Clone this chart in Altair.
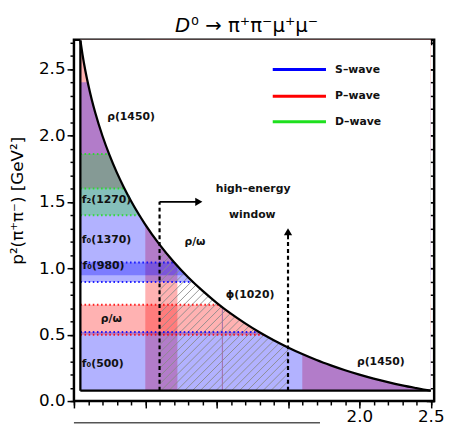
import altair as alt
import pandas as pd

# ---------------- values ----------------
# Dalitz boundary: p^2(mu+mu-) (x) vs upper edge of p^2(pi+pi-) (y)
bnd_x = [0.045, 0.06, 0.08, 0.1, 0.125, 0.15, 0.2, 0.25, 0.3, 0.35, 0.4, 0.45, 0.5,
         0.6, 0.7, 0.8, 0.9, 1.0, 1.1, 1.2, 1.3, 1.4, 1.5, 1.6, 1.7, 1.8, 1.9, 2.0,
         2.1, 2.2, 2.3, 2.4, 2.45, 2.5]
bnd_y = [2.716, 2.609, 2.487, 2.383, 2.269, 2.169, 1.996, 1.850, 1.722, 1.609, 1.507,
         1.414, 1.329, 1.178, 1.047, 0.932, 0.831, 0.740, 0.658, 0.585, 0.518, 0.458,
         0.404, 0.354, 0.309, 0.269, 0.232, 0.199, 0.169, 0.142, 0.118, 0.097, 0.087, 0.078]
x_thr = 0.045
y_thr = 0.078
x_end = 2.5
X_DOM = [0.0, 2.524]
Y_DOM = [0.0, 2.72]

waves = ["S–wave", "P–wave", "D–wave"]
wave_colors = ["#0000ff", "#ff0000", "#1ee01e"]
wave_opac = [0.3, 0.3, 0.4]

# resonance bands (horizontal: pi pi ; vertical: mu mu), drawn P, then S, then D
band_wave = ["P–wave", "P–wave", "P–wave", "P–wave",
             "S–wave", "S–wave", "S–wave", "D–wave"]
band_x1 = [x_thr, x_thr, 0.5, 1.6, x_thr, x_thr, x_thr, x_thr]
band_x2 = [x_end, x_end, 0.725, x_end, x_end, x_end, x_end, x_end]
band_y1 = [0.50, 1.60, y_thr, y_thr, y_thr, 0.896, 0.948, 1.40]
band_y2 = [0.726, Y_DOM[1], Y_DOM[1], Y_DOM[1], 0.52, 1.044, 2.40, 1.86]

# dotted band edges
edge_wave = ["S–wave", "S–wave", "S–wave", "P–wave", "P–wave", "D–wave", "D–wave", "D–wave"]
edge_y = [0.52, 0.896, 1.044, 0.50, 0.726, 1.40, 1.60, 1.86]

phi_x = 1.04          # narrow phi(1020) in mu mu
win_lo = 0.6          # dashed window edges
win_hi = 1.5

# labels
lab_text = ["ρ(1450)", "f₂(1270)", "f₀(1370)", "f₀(980)", "ρ/ω", "f₀(500)", "ρ/ω",
            "ϕ(1020)", "ρ(1450)", "high–energy", "window"]
lab_x = [0.40, 0.055, 0.055, 0.06, 0.262, 0.055, 0.848, 1.234, 2.15, 1.255, 1.25]
lab_y = [2.14, 1.51, 1.21, 1.015, 0.615, 0.28, 1.20, 0.80, 0.296, 1.60, 1.40]
lab_align = ["center", "left", "left", "left", "center", "left", "center", "center",
             "center", "center", "center"]

leg_y = [2.496, 2.296, 2.104]
leg_x1, leg_x2, leg_tx = 1.393, 1.766, 1.83

title_a = "D"
title_b = "⁰ → π⁺π⁻μ⁺μ⁻"

# ---------------- tables ----------------
xs = alt.Scale(domain=X_DOM, nice=False, zero=False)
ys = alt.Scale(domain=Y_DOM, nice=False, zero=False)
wscale = alt.Scale(domain=waves, range=wave_colors)
oscale = alt.Scale(domain=waves, range=wave_opac)

bnd = pd.DataFrame({"x": bnd_x, "y": bnd_y})
bnd["top"] = Y_DOM[1]
bands = pd.DataFrame({"wave": band_wave, "x1": band_x1, "x2": band_x2,
                      "y1": band_y1, "y2": band_y2})
bands["order"] = range(len(bands))
edges = pd.DataFrame({"wave": edge_wave, "y": edge_y})
edges["x1"] = x_thr
edges["x2"] = x_end

s = (366 / (X_DOM[1] - X_DOM[0])) / (367 / (Y_DOM[1] - Y_DOM[0]))
h_top = 1.25
step = 0.055
segs = []
c = win_lo - (h_top - y_thr) / s
while c < win_hi:
    xa = max(win_lo, c)
    xb = min(win_hi, c + (h_top - y_thr) / s)
    if xb > xa:
        segs.append({"x1": xa, "y1": y_thr + s * (xa - c),
                     "x2": xb, "y2": y_thr + s * (xb - c)})
    c += step
hatch = pd.DataFrame(segs)

frame_edges = pd.DataFrame({"x1": [x_thr, x_thr], "x2": [x_thr, x_end],
                            "y1": [y_thr, y_thr], "y2": [bnd_y[0], y_thr]})
phi_df = pd.DataFrame({"x1": [phi_x], "x2": [phi_x], "y1": [y_thr], "y2": [0.8]})
dashed = pd.DataFrame({"x1": [win_lo, win_hi], "x2": [win_lo, win_hi],
                       "y1": [y_thr, y_thr], "y2": [1.5, 1.22]})
solid = pd.DataFrame({"x1": [win_lo, win_hi], "x2": [0.86, win_hi],
                      "y1": [1.5, 1.22], "y2": [1.5, 1.26]})
heads = pd.DataFrame({"x": [0.875, win_hi], "y": [1.5, 1.275],
                      "shape": ["triangle-right", "triangle-up"]})
labels = pd.DataFrame({"t": lab_text, "x": lab_x, "y": lab_y, "a": lab_align})
legend = pd.DataFrame({"wave": waves, "y": leg_y})
legend["x1"] = leg_x1
legend["x2"] = leg_x2
legend["tx"] = leg_tx
title_df = pd.DataFrame({"a": [title_a], "b": [title_b]})


def seg_enc(ch):
    return ch.encode(
        x=alt.X("x1:Q", scale=xs, axis=None), x2="x2:Q",
        y=alt.Y("y1:Q", scale=ys, axis=None), y2="y2:Q")


rects = alt.Chart(bands).mark_rect(strokeWidth=0).encode(
    x=alt.X("x1:Q", scale=xs, axis=None), x2="x2:Q",
    y=alt.Y("y1:Q", scale=ys, axis=None), y2="y2:Q",
    color=alt.Color("wave:N", scale=wscale, legend=None),
    opacity=alt.Opacity("wave:N", scale=oscale, legend=None),
    order=alt.Order("order:Q"))

phi_line = seg_enc(alt.Chart(phi_df).mark_rule(color="#a06aa8", strokeWidth=1))
hatch_l = seg_enc(alt.Chart(hatch).mark_rule(color="#8a8a8a", strokeWidth=0.9))

edge_l = alt.Chart(edges).mark_rule(strokeWidth=2, strokeDash=[1.6, 2.6], opacity=0.85).encode(
    x=alt.X("x1:Q", scale=xs, axis=None), x2="x2:Q",
    y=alt.Y("y:Q", scale=ys, axis=None),
    color=alt.Color("wave:N", scale=wscale, legend=None))

mask = alt.Chart(bnd).mark_area(color="white", opacity=1, interpolate="monotone").encode(
    x=alt.X("x:Q", scale=xs, axis=None),
    y=alt.Y("y:Q", scale=ys, axis=None), y2="top:Q")

curve = alt.Chart(bnd).mark_line(color="black", strokeWidth=2.3, interpolate="monotone").encode(
    x=alt.X("x:Q", scale=xs, axis=None),
    y=alt.Y("y:Q", scale=ys, axis=None))

fedges = seg_enc(alt.Chart(frame_edges).mark_rule(color="black", strokeWidth=2.3))
dash_l = seg_enc(alt.Chart(dashed).mark_rule(color="black", strokeWidth=2.2, strokeDash=[4, 3]))
solid_l = seg_enc(alt.Chart(solid).mark_rule(color="black", strokeWidth=2))
head_l = alt.Chart(heads).mark_point(filled=True, color="black", size=70, opacity=1).encode(
    x=alt.X("x:Q", scale=xs, axis=None),
    y=alt.Y("y:Q", scale=ys, axis=None),
    shape=alt.Shape("shape:N", scale=None))

texts = []
for al in ["left", "center"]:
    texts.append(alt.Chart(labels).transform_filter(alt.datum.a == al).mark_text(
        font="DejaVu Sans", fontWeight="bold", fontSize=11, align=al,
        baseline="middle", color="#111111").encode(
        x=alt.X("x:Q", scale=xs, axis=None),
        y=alt.Y("y:Q", scale=ys, axis=None), text="t:N"))

leg_lines = alt.Chart(legend).mark_rule(strokeWidth=3).encode(
    x=alt.X("x1:Q", scale=xs, axis=None), x2="x2:Q",
    y=alt.Y("y:Q", scale=ys, axis=None),
    color=alt.Color("wave:N", scale=wscale, legend=None))
leg_text = alt.Chart(legend).mark_text(font="DejaVu Sans", fontWeight="bold", fontSize=11,
                                       align="left", baseline="middle", color="#111111").encode(
    x=alt.X("tx:Q", scale=xs, axis=None),
    y=alt.Y("y:Q", scale=ys, axis=None), text="wave:N")

title1 = alt.Chart(title_df).mark_text(font="DejaVu Sans", fontSize=20, fontStyle="italic",
                                       align="right", baseline="alphabetic", color="black").encode(
    x=alt.value(118), y=alt.value(-8), text="a:N")
title2 = alt.Chart(title_df).mark_text(font="DejaVu Sans", fontSize=20,
                                       align="left", baseline="alphabetic", color="black").encode(
    x=alt.value(119), y=alt.value(-8), text="b:N")

cut_line = alt.Chart(bnd).transform_filter(alt.datum.x == 0.5).mark_rule(
    color="#555555", strokeWidth=1.5).encode(
    x=alt.value(0), x2=alt.value(250), y=alt.value(389))

# ---------------- axes (invisible carriers) ----------------
maj_x = [0, 0.5, 1.0, 1.5, 2.0, 2.5]
min_x = [round(0.1 * i, 1) for i in range(26)]
top_x = [round(k / 6, 4) for k in range(1, 16)]
maj_y = [0, 0.5, 1.0, 1.5, 2.0, 2.5]
min_y = [round(0.1 * i, 1) for i in range(28)]

ax_common = dict(domain=False, grid=False, tickColor="black", tickWidth=1.5,
                 labelFont="DejaVu Sans", labelColor="black", labelFontSize=17)

ax1 = alt.Chart(bnd).mark_point(opacity=0).encode(
    x=alt.X("x:Q", scale=xs, axis=alt.Axis(
        orient="bottom", values=maj_x, tickSize=7, labelPadding=1, title=None,
        labelExpr="datum.value >= 2 ? format(datum.value, '.1f') : ''", **ax_common)),
    y=alt.Y("y:Q", scale=ys, axis=alt.Axis(
        orient="left", values=maj_y, tickSize=7, format=".1f", labelPadding=2,
        title="p²(π⁺π⁻) [GeV²]", titleFont="DejaVu Sans", titleFontSize=17,
        titleFontWeight="normal", titleColor="black", titleAngle=-90,
        titleX=-57, titleY=163, titleAlign="center", titleBaseline="middle",
        **ax_common)))
ax2 = alt.Chart(bnd).mark_point(opacity=0).encode(
    x=alt.X("x:Q", scale=xs, axis=alt.Axis(
        orient="bottom", values=min_x, tickSize=4, labels=False, title=None, **ax_common)),
    y=alt.Y("y:Q", scale=ys, axis=alt.Axis(
        orient="left", values=min_y, tickSize=4, labels=False, title=None, **ax_common)))
ax3 = alt.Chart(bnd).mark_point(opacity=0).encode(
    x=alt.X("x:Q", scale=xs, axis=alt.Axis(
        orient="top", values=top_x, tickSize=5, offset=-5, labels=False, title=None,
        **ax_common)),
    y=alt.Y("y:Q", scale=ys, axis=alt.Axis(
        orient="right", values=min_y, tickSize=5, offset=-5, labels=False, title=None,
        **ax_common)))
ax4 = alt.Chart(bnd).mark_point(opacity=0).encode(
    x=alt.X("x:Q", scale=xs, axis=None),
    y=alt.Y("y:Q", scale=ys, axis=alt.Axis(
        orient="right", values=maj_y, tickSize=8, offset=-8, labels=False, title=None,
        **ax_common)))

chart = alt.layer(
    rects, phi_line, hatch_l, edge_l, mask, curve, fedges, dash_l, solid_l, head_l,
    *texts, leg_lines, leg_text, title1, title2, cut_line, ax1, ax2, ax3, ax4
).resolve_axis(x="independent", y="independent").properties(
    width=366, height=367,
    padding={"left": 67, "top": 29, "right": 10, "bottom": 23},
    autosize=alt.AutoSizeParams(type="none"),
).configure_view(stroke="black", strokeWidth=2.5)

chart.save("out.html", embed_options={"renderer": "svg", "actions": False})
